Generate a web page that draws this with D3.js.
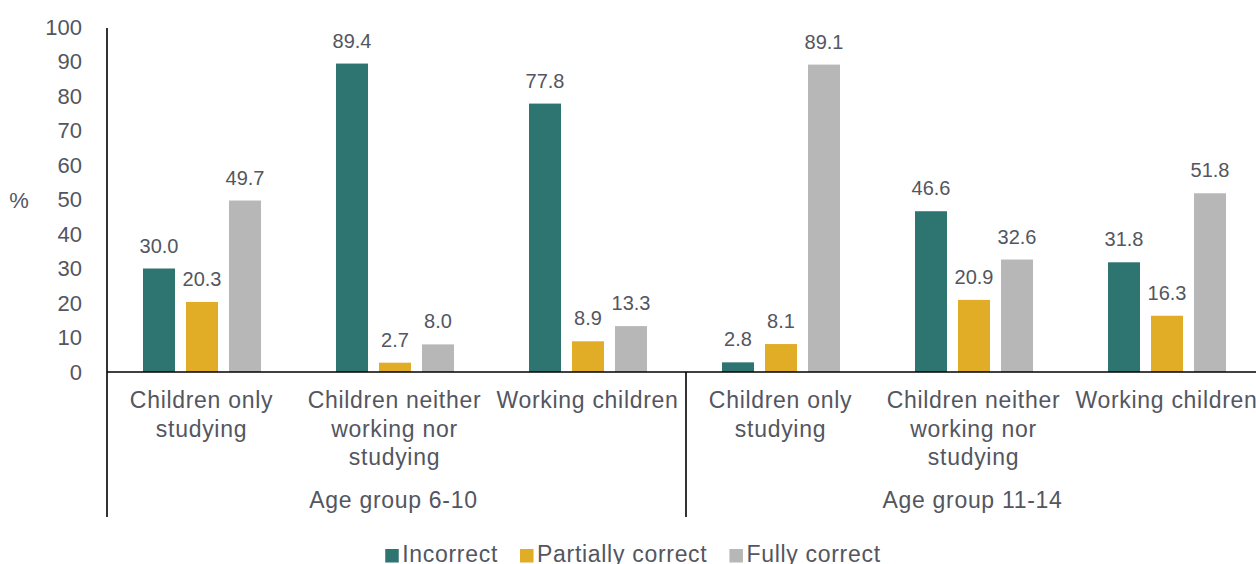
<!DOCTYPE html>
<html>
<head>
<meta charset="utf-8">
<script src="https://cdn.jsdelivr.net/npm/d3@7"></script>
<style>
  html, body { margin: 0; padding: 0; background: #fff; }
  svg { display: block; font-family: "Liberation Sans", Arial, sans-serif; }
  text { fill: #53565f; }
  .wide { letter-spacing: 0.7px; }
</style>
</head>
<body>
<svg id="chart" width="1256" height="564"></svg>
<script>
// Answer quality by activity status and age group (%)
const ageGroups = ["Age group 6-10", "Age group 11-14"];
const categoryLines = [
  ["Children only", "studying"],
  ["Children neither", "working nor", "studying"],
  ["Working children"]
];
const series = ["Incorrect", "Partially correct", "Fully correct"];
const seriesColors = ["#2e7571", "#e1ac26", "#b7b7b7"];

// one value per category, age group 6-10 first, then 11-14
const incorrect = [30.0, 89.4, 77.8, 2.8, 46.6, 31.8];
const partiallyCorrect = [20.3, 2.7, 8.9, 8.1, 20.9, 16.3];
const fullyCorrect = [49.7, 8.0, 13.3, 89.1, 32.6, 51.8];

const yTicks = [0, 10, 20, 30, 40, 50, 60, 70, 80, 90, 100];

const seriesValues = [incorrect, partiallyCorrect, fullyCorrect];
const slots = [];
ageGroups.forEach((g, gi) => categoryLines.forEach((c, ci) => slots.push({ key: gi + "-" + ci, lines: c, group: gi })));

const svg = d3.select("#chart");
const left = 107, zeroY = 372, topY = 27, step = 193, bottomY = 517;

const x0 = d3.scaleBand().domain(slots.map(s => s.key)).range([left, left + step * slots.length]);
const x1 = d3.scaleBand().domain(series).range([36, 154]).paddingInner(11 / 43);
const y = d3.scaleLinear().domain([0, 100]).range([zeroY, topY]);

// bars and value labels
series.forEach((s, si) => {
  const rows = slots.map((slot, i) => ({ slot, v: seriesValues[si][i] }));
  svg.append("g").selectAll("rect")
    .data(rows)
    .join("rect")
    .attr("x", d => x0(d.slot.key) + x1(s))
    .attr("y", d => y(d.v))
    .attr("width", x1.bandwidth())
    .attr("height", d => y(0) - y(d.v))
    .attr("fill", seriesColors[si]);

  svg.append("g").selectAll("text")
    .data(rows)
    .join("text")
    .attr("x", d => x0(d.slot.key) + x1(s) + x1.bandwidth() / 2)
    .attr("y", d => y(d.v) - 16)
    .attr("text-anchor", "middle")
    .attr("font-size", 20)
    .text(d => d.v.toFixed(1));
});

// y axis labels
const yAxis = d3.axisLeft(y).tickValues(yTicks).tickSize(0).tickPadding(25);
const yg = svg.append("g").attr("transform", `translate(${left},0)`).call(yAxis);
yg.select(".domain").remove();
yg.selectAll("text").attr("font-size", 22).attr("fill", "#53565f")
  .attr("font-family", "Liberation Sans, Arial, sans-serif");

svg.append("text").attr("x", 19).attr("y", 200).attr("dy", "0.35em")
  .attr("text-anchor", "middle").attr("font-size", 22).text("%");

// axis lines
const lines = svg.append("g").attr("stroke", "#000").attr("stroke-width", 1.6);
lines.append("line").attr("x1", left).attr("x2", left).attr("y1", 28).attr("y2", bottomY);
lines.append("line").attr("x1", left).attr("x2", x0.range()[1]).attr("y1", zeroY).attr("y2", zeroY);
ageGroups.forEach((g, gi) => {
  const xe = left + step * categoryLines.length * (gi + 1);
  lines.append("line").attr("x1", xe).attr("x2", xe).attr("y1", zeroY).attr("y2", bottomY);
});

// category labels
const lineYs = [400, 429, 457];
slots.forEach(slot => {
  const cx = x0(slot.key) + step / 2 - 2;
  slot.lines.forEach((t, li) => {
    svg.append("text").attr("class", "wide").attr("x", cx).attr("y", lineYs[li]).attr("dy", "0.35em")
      .attr("text-anchor", "middle").attr("font-size", 23).text(t);
  });
});

// age group labels
ageGroups.forEach((g, gi) => {
  const cx = left + step * categoryLines.length * (gi + 0.5) - 3;
  svg.append("text").attr("class", "wide").attr("x", cx).attr("y", 500).attr("dy", "0.35em")
    .attr("text-anchor", "middle").attr("font-size", 23).text(g);
});

// legend
const legend = svg.append("g");
let lx = 0;
series.forEach((s, si) => {
  const item = legend.append("g").attr("transform", `translate(${lx},0)`);
  item.append("rect").attr("x", 0).attr("y", 549).attr("width", 13.5).attr("height", 13.5).attr("fill", seriesColors[si]);
  const t = item.append("text").attr("class", "wide").attr("x", 17).attr("y", 562).attr("font-size", 23).text(s);
  lx += 17 + t.node().getComputedTextLength() + 22;
});
const legendWidth = lx - 22;
legend.attr("transform", `translate(${633 - legendWidth / 2},0)`);
</script>
</body>
</html>
